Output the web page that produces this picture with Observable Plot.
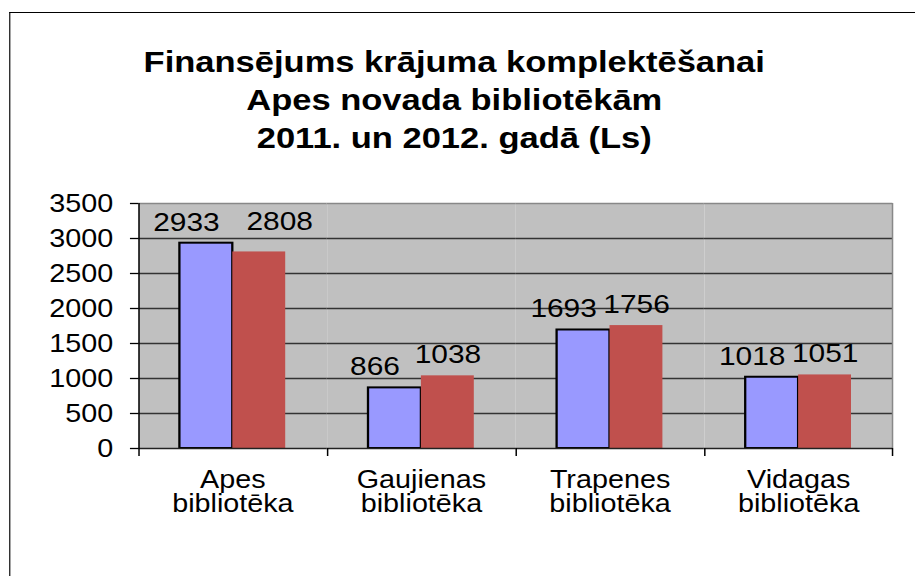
<!DOCTYPE html>
<html>
<head>
<meta charset="utf-8">
<script src="https://cdn.jsdelivr.net/npm/d3@7"></script>
<script src="https://cdn.jsdelivr.net/npm/@observablehq/plot@0.6"></script>
<style>
  html, body { margin: 0; padding: 0; background: #fff; }
  #wrap { position: absolute; left: 0; top: 0; width: 796px; height: 576px; overflow: hidden; transform: scaleX(1.15); transform-origin: 0 0; font-family: "Liberation Sans", Arial, sans-serif; }
  #border { position: absolute; left: 7.8px; top: 12px; right: 0; bottom: 0; border-left: 1.5px solid #000; border-top: 1.5px solid #000; }
  #title { position: absolute; left: 0; top: 42.6px; width: 790px; text-align: center; font-weight: bold; font-size: 30px; line-height: 38px; color: #000; }
  #chart { position: absolute; left: 0; top: 160px; }
</style>
</head>
<body>
<div id="wrap">
  <div id="border"></div>
  <div id="title">Finansējums krājuma komplektēšanai<br>Apes novada bibliotēkām<br>2011. un 2012. gadā (Ls)</div>
  <div id="chart"></div>
</div>
<script>
const categories = ["Apes bibliotēka", "Gaujienas bibliotēka", "Trapenes bibliotēka", "Vidagas bibliotēka"];
const years = ["2011", "2012"];
const values2011 = [2933, 866, 1693, 1018];
const values2012 = [2808, 1038, 1756, 1051];
const yTicks = [0, 500, 1000, 1500, 2000, 2500, 3000, 3500];

const rows2011 = categories.map((c, i) => ({cat: c, year: years[0], value: values2011[i]}));
const rows2012 = categories.map((c, i) => ({cat: c, year: years[1], value: values2012[i]}));

// layout (unstretched units; the whole page is stretched horizontally like the original)
const W = 796, ML = 120, MR = 19.5;
const PO = 0.75;
const facetW = (W - ML - MR) / categories.length;
const step = facetW / (years.length + 2 * PO);
const edgeOff = (PO + 0.5) * step;

const font = "'Liberation Sans', Arial, sans-serif";

const chart = Plot.plot({
  width: W,
  height: 368,
  marginTop: 43,
  marginBottom: 80,
  marginLeft: ML,
  marginRight: MR,
  style: {fontFamily: font, background: "transparent", color: "#000", overflow: "visible"},
  fx: {domain: categories, padding: 0, label: null},
  x: {domain: years, paddingInner: 0, paddingOuter: PO, axis: null},
  y: {domain: [0, 3500], label: null},
  marks: [
    Plot.frame({fill: "#c0c0c0"}),
    Plot.ruleY(yTicks.filter(v => v > 0 && v < 3500), {stroke: "#333", strokeWidth: 1.3}),
    Plot.ruleY([3500], {stroke: "#888", strokeWidth: 1.3}),
    Plot.ruleX([categories[3]], {fx: d => d, x: () => years[1], dx: edgeOff, y1: 0, y2: 3500, stroke: "#888", strokeWidth: 1.3}),
    Plot.barY(rows2011, {fx: "cat", x: "year", y: "value", fill: "#9999ff", stroke: "#000", strokeWidth: 2}),
    Plot.barY(rows2012, {fx: "cat", x: "year", y: "value", fill: "#c0504d"}),
    Plot.ruleY([0], {stroke: "#222", strokeWidth: 1.3}),
    Plot.ruleX([categories[0]], {fx: d => d, x: () => years[0], dx: -edgeOff, y1: 0, y2: 3500, stroke: "#000", strokeWidth: 1.3}),
    Plot.ruleX(categories, {fx: d => d, x: () => years[0], dx: -edgeOff, y1: 0, y2: 0, insetBottom: -8, stroke: "#000", strokeWidth: 1.3}),
    Plot.ruleX([categories[3]], {fx: d => d, x: () => years[1], dx: edgeOff, y1: 0, y2: 0, insetBottom: -8, stroke: "#000", strokeWidth: 1.3}),
    Plot.text(rows2011, {fx: "cat", x: "year", y: "value", text: d => String(d.value), dy: -21, dx: -17.4, fontSize: 26, fill: "#000"}),
    Plot.text(rows2012.filter(d => d.cat !== categories[0]), {fx: "cat", x: "year", y: "value", text: d => String(d.value), dy: -21, fontSize: 26, fill: "#000"}),
    Plot.text(rows2012.filter(d => d.cat === categories[0]), {fx: "cat", x: "year", y: "value", text: d => String(d.value), dy: -30, dx: 17.7, fontSize: 26, fill: "#000"}),
    Plot.axisY({ticks: yTicks, tickFormat: d => String(d), tickSize: 7, tickPadding: 15, fontSize: 25, label: null, stroke: "#000", strokeWidth: 1.3}),
    Plot.axisFx({anchor: "bottom", tickSize: 0, tickPadding: 22, fontSize: 25, lineHeight: 0.96, label: null, tickFormat: d => d.replace(" ", "\n")})
  ]
});
document.getElementById("chart").appendChild(chart);
</script>
</body>
</html>
